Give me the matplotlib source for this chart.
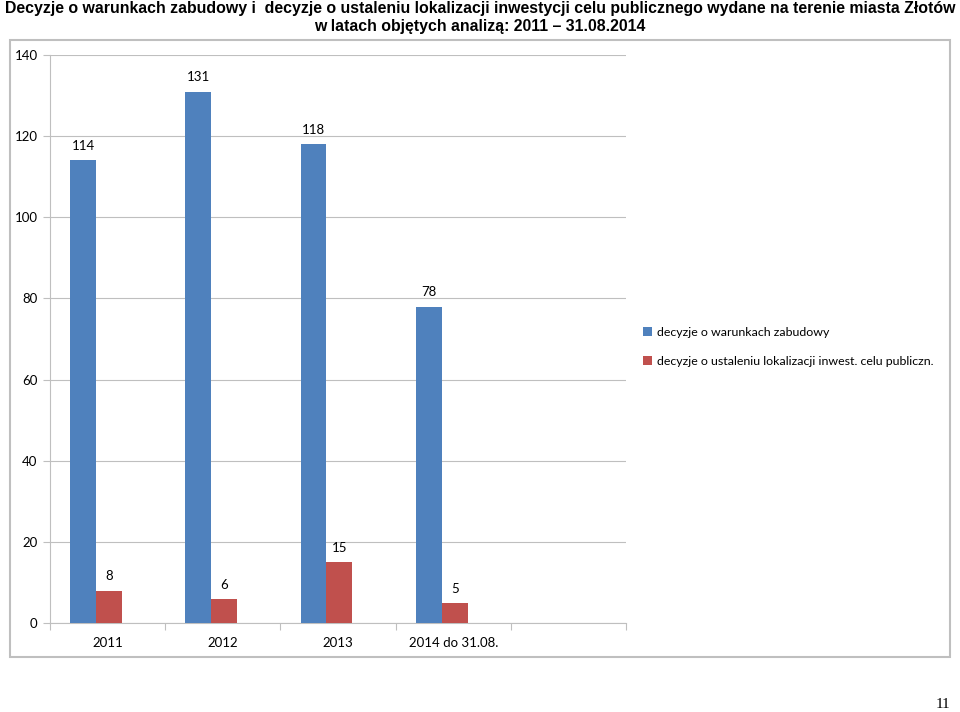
import matplotlib.pyplot as plt
from matplotlib.patches import Rectangle
import numpy as np

categories = ['2011', '2012', '2013', '2014 do 31.08.', '']
warunki = [114, 131, 118, 78]
lokalizacja = [8, 6, 15, 5]
series_names = ['decyzje o warunkach zabudowy',
                'decyzje o ustaleniu lokalizacji inwest. celu publiczn.']

blue = '#4F81BD'
red = '#C0504D'
grid_col = '#BFBFBF'
label_font = ['Lato', 'DejaVu Sans']

fig = plt.figure(figsize=(9.6, 7.12), dpi=100, facecolor='white')

# outer chart frame
fig.patches.append(Rectangle((10 / 960, 1 - 657 / 712), 940 / 960, 617 / 712,
                             transform=fig.transFigure, facecolor='none',
                             edgecolor='#BFBFBF', linewidth=1.5))

ax = fig.add_axes([50 / 960, 1 - 623 / 712, 576 / 960, 568 / 712])

x = np.arange(len(warunki))
w = 0.225
b1 = ax.bar(x + 0.5 - w / 2 - 0.1, warunki, w, color=blue, zorder=3, label=series_names[0])
b2 = ax.bar(x + 0.5 + w / 2 - 0.1, lokalizacja, w, color=red, zorder=3, label=series_names[1])

for bars, vals in [(b1, warunki), (b2, lokalizacja)]:
    for r, v in zip(bars, vals):
        ax.text(r.get_x() + r.get_width() / 2, v + 2, str(v), ha='center', va='bottom',
                fontsize=9.5, family=label_font, color='black')

ax.set_xlim(0, len(categories))
ax.set_ylim(0, 140)
ax.set_yticks(range(0, 141, 20))
ax.set_xticks(np.arange(len(categories) + 1))
ax.set_xticklabels([])
ax.set_xticks(np.arange(len(categories)) + 0.5, minor=True)
ax.set_xticklabels(categories, minor=True, fontsize=9.5, family=label_font)
ax.tick_params(axis='x', which='minor', length=0, pad=10)
ax.tick_params(axis='x', which='major', length=5, color=grid_col, direction='out')
ax.tick_params(axis='y', length=5, color=grid_col, direction='out', pad=4, labelsize=9.5)
for lab in ax.get_yticklabels():
    lab.set_family(label_font)

ax.grid(axis='y', color=grid_col, linewidth=0.8, zorder=0)
for s in ['top', 'right']:
    ax.spines[s].set_visible(False)
for s in ['left', 'bottom']:
    ax.spines[s].set_color(grid_col)

leg = fig.legend(handles=[b1, b2], loc='upper left', bbox_to_anchor=(632 / 960, 1 - 316 / 712),
                 frameon=False, prop={'family': label_font, 'size': 8.9},
                 handlelength=0.7, handleheight=0.7, handletextpad=0.4, labelspacing=1.45)

title_font = ['Liberation Sans Narrow', 'Liberation Sans']
fig.text(0.5, 1 - 9 / 712,
         'Decyzje o warunkach zabudowy i  decyzje o ustaleniu lokalizacji inwestycji celu publicznego wydane na terenie miasta Złotów',
         ha='center', va='center', fontsize=11.4, fontweight='bold', family=title_font)
fig.text(0.5, 1 - 26 / 712, 'w latach objętych analizą: 2011 – 31.08.2014',
         ha='center', va='center', fontsize=11.4, fontweight='bold', family=title_font)

fig.text(950 / 960, 1 - 705 / 712, '11', ha='right', va='center', fontsize=11,
         family=['Liberation Serif', 'DejaVu Serif'])

plt.savefig('out.png', dpi=100, facecolor='white')
